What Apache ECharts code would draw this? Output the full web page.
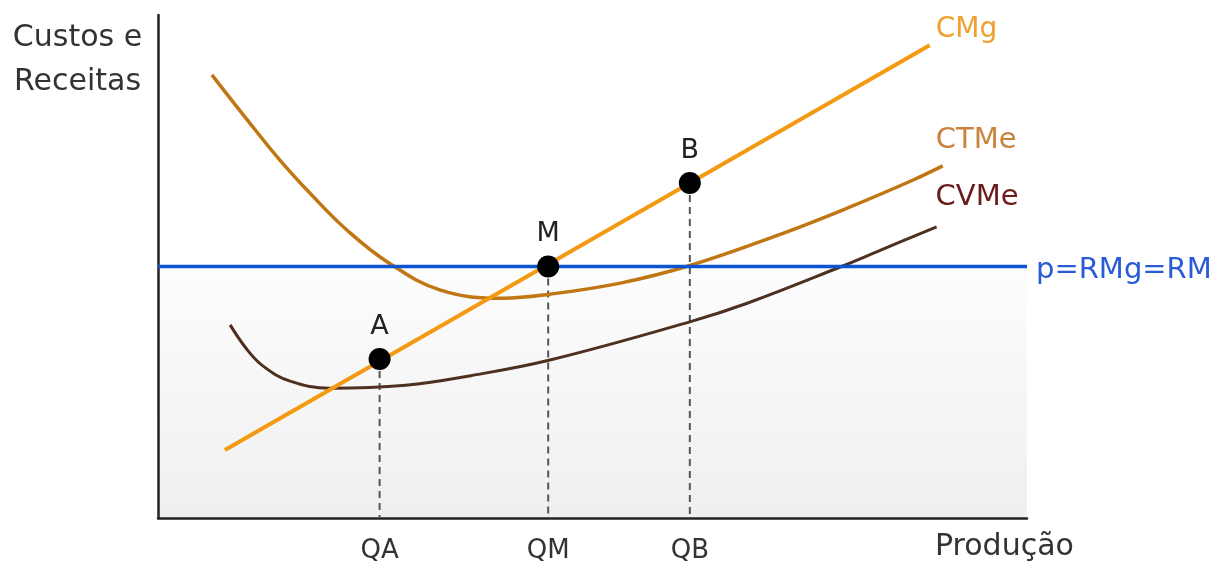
<!DOCTYPE html>
<html>
<head>
<meta charset="utf-8">
<script src="https://cdn.jsdelivr.net/npm/echarts@6/dist/echarts.min.js"></script>
<style>
html,body{margin:0;padding:0;background:#fff;}
#chart{width:1231px;height:565px;}
</style>
</head>
<body>
<div id="chart"></div>
<script>
// ---- data (arbitrary units: x = produção 0..100, y = custos/receitas 0..100)
const cmgCurve = [[7.7, 13.5], [88.8, 94.0]];
const ctmeCurve = [[6.2, 88.1], [10.2, 79.3], [14.0, 71.2], [17.8, 64.0], [21.7, 57.3], [26.4, 50.9], [32.5, 45.3], [39.7, 43.7], [45.1, 44.5], [53.2, 46.7], [61.2, 50.2], [71.6, 56.4], [79.3, 61.6], [86.9, 67.2], [90.3, 70.0]];
const cvmeCurve = [[8.3, 38.4], [10.2, 33.6], [12.1, 30.2], [15.2, 27.2], [19.8, 25.8], [28.5, 26.4], [36.0, 28.3], [45.1, 31.4], [61.2, 39.0], [67.8, 42.7], [78.5, 49.9], [83.1, 53.2], [89.6, 57.9]];
const priceLevel = 50;
const priceRange = [0, 100];
const pointNames = ['A', 'M', 'B'];
const pointX = [25.5, 44.9, 61.2];
const pointY = [31.6, 50.0, 66.6];
const qLabels = ['QA', 'QM', 'QB'];
const seriesNames = ['CMg', 'CTMe', 'CVMe', 'p=RMg=RM'];
const yTitle = 'Custos e\nReceitas';
const xTitle = 'Produção';

const FONT = '"DejaVu Sans", Verdana, sans-serif';
const chart = echarts.init(document.getElementById('chart'), null, {renderer: 'canvas'});

const dashedSeries = pointX.map((x, i) => ({
  type: 'line',
  data: [[x, pointY[i]], [x, 0]],
  symbol: 'none',
  silent: true,
  z: 1,
  lineStyle: {color: '#555555', width: 2, type: [7, 5]}
}));

const option = {
  animation: false,
  backgroundColor: '#ffffff',
  grid: {left: 158, right: 204, top: 15, bottom: 47},
  xAxis: {
    type: 'value', min: 0, max: 100,
    splitLine: {show: false},
    axisLine: {show: true, onZero: false, lineStyle: {color: '#222', width: 2.5}},
    axisTick: {show: false},
    axisLabel: {
      show: true,
      customValues: pointX,
      formatter: (v) => { const i = pointX.indexOf(v); return i >= 0 ? qLabels[i] : ''; },
      margin: 20,
      fontSize: 26, color: '#333', fontFamily: FONT
    }
  },
  yAxis: {
    type: 'value', min: 0, max: 100,
    splitLine: {show: false},
    axisLine: {show: true, onZero: false, lineStyle: {color: '#222', width: 2.5}},
    axisTick: {show: false},
    axisLabel: {show: false}
  },
  graphic: [
    {type: 'text', left: 10, top: 16, style: {text: yTitle, font: '30px ' + FONT, fill: '#333', lineHeight: 44, textAlign: 'center', width: 135}},
    {type: 'text', left: 935, top: 532, style: {text: xTitle, font: '30px ' + FONT, fill: '#333'}}
  ],
  series: [
    {
      name: seriesNames[3], type: 'line',
      data: [[priceRange[0], priceLevel], [priceRange[1], priceLevel]],
      symbol: 'none', z: 0,
      lineStyle: {width: 0},
      areaStyle: {
        color: new echarts.graphic.LinearGradient(0, 0, 0, 1, [
          {offset: 0, color: '#fdfdfd'}, {offset: 1, color: '#efefef'}
        ]),
        opacity: 1
      }
    },
    ...dashedSeries,
    {
      name: seriesNames[1], type: 'line', data: ctmeCurve, smooth: 0.4, symbol: 'none', z: 3,
      lineStyle: {color: '#c07612', width: 3.5},
      endLabel: {show: true, formatter: seriesNames[1], offset: [-15, -25], fontSize: 29, color: '#c8843c', fontFamily: FONT}
    },
    {
      name: seriesNames[2], type: 'line', data: cvmeCurve, smooth: 0.4, symbol: 'none', z: 3,
      lineStyle: {color: '#4d3020', width: 3},
      endLabel: {show: true, formatter: seriesNames[2], offset: [-9, -29], fontSize: 29, color: '#6a1c1c', fontFamily: FONT}
    },
    {
      name: seriesNames[0], type: 'line', data: cmgCurve, symbol: 'none', z: 4,
      lineStyle: {color: '#f39a12', width: 4},
      endLabel: {show: true, formatter: seriesNames[0], offset: [-2, -15], fontSize: 28, color: '#f0a030', fontFamily: FONT}
    },
    {
      name: seriesNames[3] + ' line', type: 'line',
      data: [[priceRange[0], priceLevel], [priceRange[1], priceLevel]],
      symbol: 'none', z: 5,
      lineStyle: {color: '#0d55d0', width: 3.5},
      endLabel: {show: true, formatter: seriesNames[3], offset: [1, 4], fontSize: 29, color: '#2a5bd7', fontFamily: FONT}
    },
    {
      type: 'scatter', z: 6,
      data: pointX.map((x, i) => ({value: [x, pointY[i]], name: pointNames[i]})),
      symbolSize: 22,
      itemStyle: {color: '#000000', opacity: 1},
      label: {show: true, position: 'top', distance: 8, formatter: (p) => p.name, fontSize: 27, color: '#222', fontFamily: FONT}
    }
  ]
};
chart.setOption(option);
</script>
</body>
</html>
